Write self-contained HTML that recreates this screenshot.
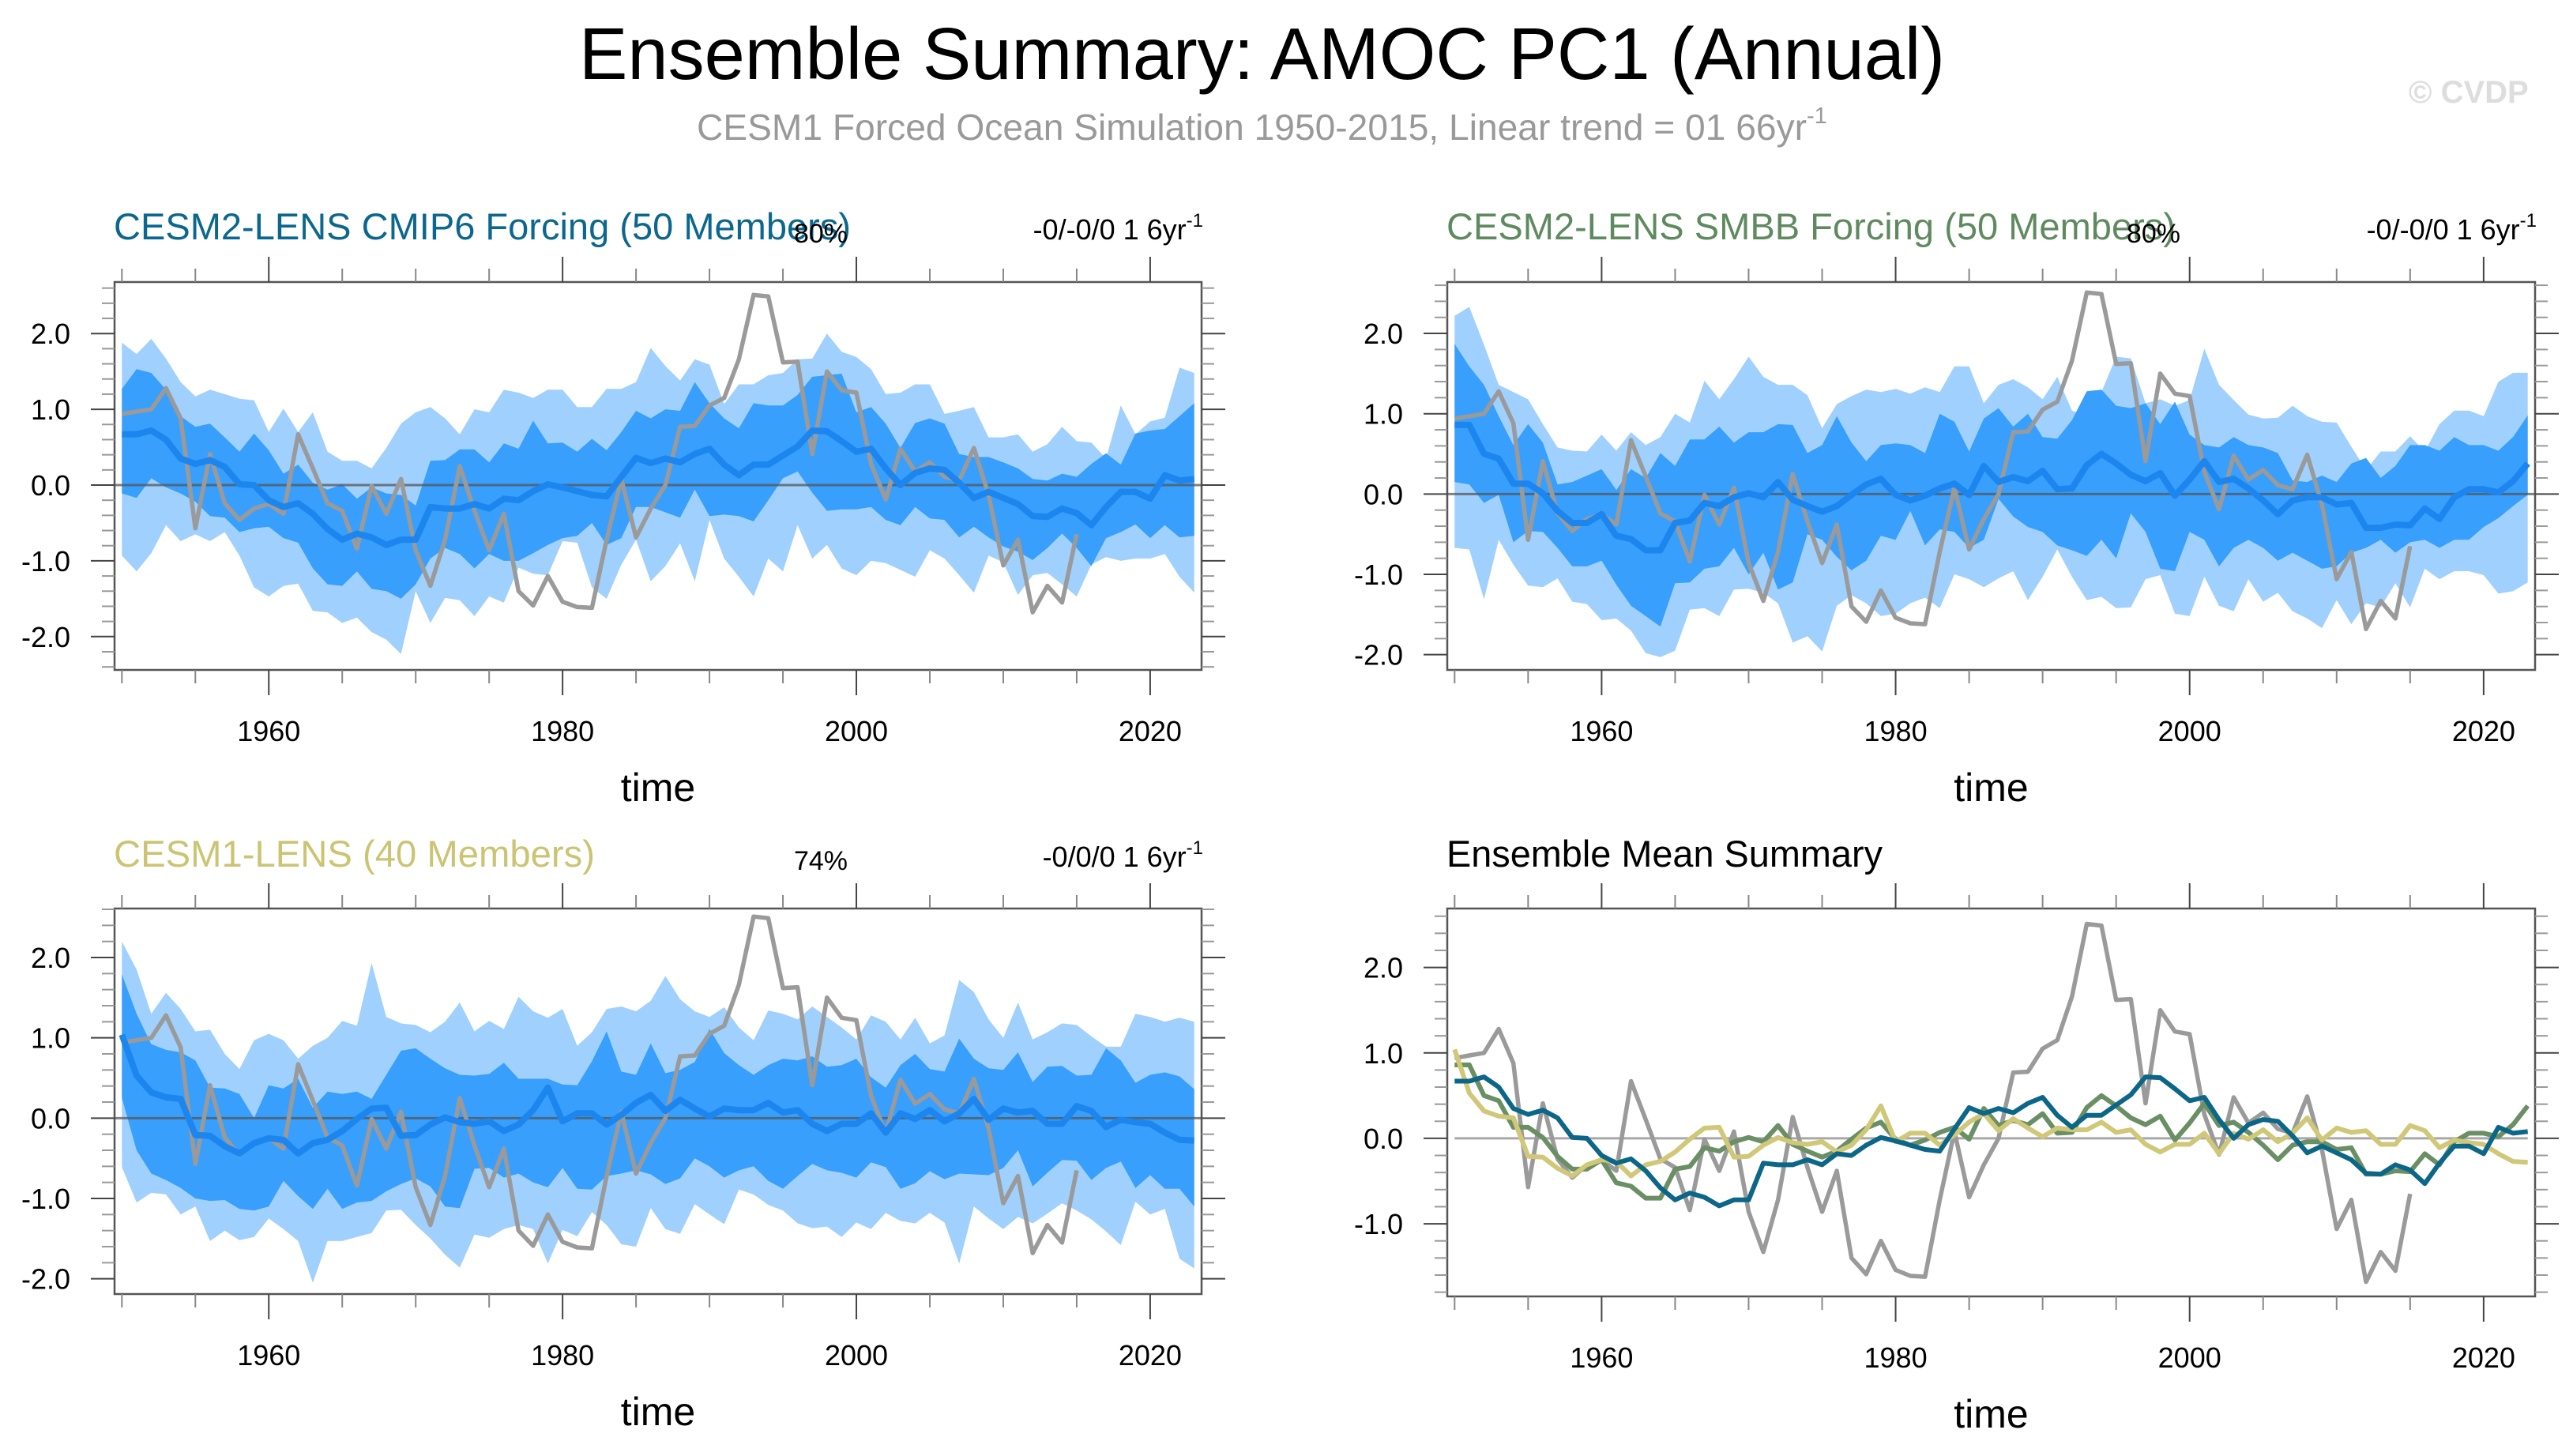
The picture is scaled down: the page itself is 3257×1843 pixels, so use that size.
<!DOCTYPE html>
<html><head><meta charset="utf-8"><style>
html,body{margin:0;padding:0;background:#fff;}
svg{display:block;font-family:"Liberation Sans",Arial,sans-serif;}
</style></head><body>
<svg id="fig" width="3257" height="1843" viewBox="0 0 3257 1843" xmlns="http://www.w3.org/2000/svg">
<rect width="3257" height="1843" fill="#fff"/>
<text x="733" y="100" font-size="93" textLength="1729" lengthAdjust="spacingAndGlyphs">Ensemble Summary: AMOC PC1 (Annual)</text>
<text x="882" y="177" font-size="46" fill="#999"><tspan textLength="1405" lengthAdjust="spacingAndGlyphs">CESM1 Forced Ocean Simulation 1950-2015, Linear trend = 01 66yr</tspan><tspan font-size="29" dy="-21">-1</tspan></text>
<text x="3049" y="130" font-size="40" font-weight="bold" fill="#dddddd">© CVDP</text>
<g id="panels"></g>
</svg>
<script>
const years = [];
for (let y = 1950; y <= 2023; y++) years.push(y);
const obsYears = [];
for (let y = 1950; y <= 2015; y++) obsYears.push(y);
const xTickYears = [1960, 1980, 2000, 2020];
const yTickLabelsTop = ["2.0", "1.0", "0.0", "-1.0", "-2.0"];
const yTickLabelsSummary = ["2.0", "1.0", "0.0", "-1.0"];

const obs = [0.94,0.97,1.0,1.28,0.88,-0.57,0.41,-0.24,-0.46,-0.31,
 -0.25,-0.38,0.67,0.22,-0.24,-0.34,-0.84,-0.01,-0.38,0.08,
 -0.86,-1.33,-0.72,0.25,-0.34,-0.86,-0.38,-1.40,-1.59,-1.20,
 -1.54,-1.61,-1.62,-0.72,0.08,-0.69,-0.31,0.0,0.77,0.78,
 1.05,1.15,1.66,2.51,2.49,1.62,1.63,0.41,1.5,1.25,
 1.22,0.28,-0.19,0.48,0.18,0.30,0.11,0.06,0.49,-0.13,
 -1.06,-0.72,-1.68,-1.33,-1.55,-0.65];

const mean1 = [0.67,0.67,0.72,0.60,0.35,0.28,0.33,0.24,0.01,0.0,
 -0.2,-0.29,-0.24,-0.38,-0.58,-0.72,-0.64,-0.69,-0.79,-0.72,
 -0.72,-0.29,-0.31,-0.31,-0.25,-0.31,-0.18,-0.2,-0.08,0.01,
 -0.03,-0.08,-0.13,-0.15,0.11,0.36,0.29,0.35,0.30,0.41,
 0.48,0.27,0.13,0.27,0.27,0.39,0.51,0.72,0.71,0.58,
 0.44,0.48,0.22,0.0,0.16,0.22,0.2,0.03,-0.17,-0.09,
 -0.17,-0.25,-0.41,-0.42,-0.31,-0.37,-0.53,-0.29,-0.09,-0.09,
 -0.18,0.13,0.06,0.08];
const innerHi1 = [1.27,1.53,1.48,1.26,0.91,0.77,0.81,0.63,0.44,0.68,
 0.46,0.15,0.27,0.03,-0.06,0.01,-0.18,-0.03,-0.11,-0.13,
 -0.27,0.32,0.33,0.47,0.47,0.30,0.55,0.48,0.85,0.55,
 0.56,0.44,0.61,0.46,0.70,0.98,0.88,1.0,0.98,1.36,
 1.08,0.88,0.75,1.08,1.05,1.05,1.19,1.43,1.45,1.47,
 0.96,1.03,0.81,0.49,0.82,0.88,0.81,0.41,0.37,0.37,
 0.30,0.22,0.08,0.06,0.15,0.11,0.28,0.42,0.27,0.68,
 0.72,0.74,0.91,1.08];
const innerLo1 = [-0.11,-0.17,0.09,-0.03,-0.11,-0.22,-0.41,-0.43,-0.62,-0.57,
 -0.55,-0.7,-0.76,-1.10,-1.31,-1.33,-1.14,-1.37,-1.4,-1.50,
 -1.31,-0.97,-0.83,-0.91,-1.10,-0.91,-1.0,-1.0,-0.9,-0.79,
 -0.70,-0.67,-0.50,-0.79,-0.70,-0.29,-0.29,-0.36,-0.43,-0.06,
 -0.41,-0.39,-0.41,-0.48,-0.2,0.09,0.18,-0.10,-0.34,-0.32,
 -0.32,-0.29,-0.46,-0.53,-0.29,-0.44,-0.46,-0.69,-0.55,-0.69,
 -0.81,-0.88,-0.99,-0.83,-0.64,-0.83,-1.07,-0.70,-0.62,-0.52,
 -0.70,-0.53,-0.69,-0.67];
const outerHi1 = [1.88,1.73,1.93,1.67,1.36,1.17,1.26,1.2,1.14,1.12,
 0.70,1.01,0.70,0.96,0.44,0.32,0.32,0.22,0.49,0.81,
 0.96,1.03,0.88,0.67,1.0,0.96,1.26,1.22,1.15,1.26,
 1.26,1.03,1.03,1.27,1.27,1.36,1.81,1.57,1.38,1.66,
 1.59,1.07,1.33,1.33,1.45,1.48,1.66,1.67,2.0,1.76,
 1.69,1.53,1.2,1.22,1.33,1.33,0.94,0.98,1.03,0.63,
 0.63,0.67,0.44,0.54,0.77,0.58,0.56,0.35,1.05,0.67,
 0.84,0.89,1.55,1.48];
const outerLo1 = [-0.93,-1.14,-0.9,-0.53,-0.74,-0.65,-0.74,-0.62,-0.93,-1.35,
 -1.47,-1.33,-1.30,-1.66,-1.68,-1.82,-1.75,-1.94,-2.04,-2.23,
 -1.40,-1.82,-1.49,-1.52,-1.73,-1.47,-1.55,-1.09,-1.17,-1.19,
 -0.74,-0.76,-1.35,-1.50,-1.05,-0.72,-1.27,-1.07,-0.77,-1.27,
 -0.46,-0.97,-1.21,-1.47,-0.97,-1.14,-0.53,-0.97,-0.79,-1.10,
 -1.19,-1.0,-1.03,-1.12,-1.21,-0.86,-0.97,-1.19,-1.42,-0.93,
 -1.02,-1.45,-1.19,-1.16,-1.31,-1.47,-1.05,-0.95,-1.0,-0.97,
 -0.97,-0.91,-1.21,-1.42];

const mean2 = [0.86,0.86,0.50,0.44,0.13,0.13,0.01,-0.21,-0.36,-0.36,
 -0.25,-0.52,-0.56,-0.70,-0.70,-0.36,-0.33,-0.11,-0.15,-0.04,
 0.01,-0.04,0.15,-0.07,-0.15,-0.22,-0.15,-0.01,0.12,0.19,
 -0.01,-0.08,-0.02,0.07,0.13,-0.01,0.35,0.15,0.21,0.16,
 0.29,0.06,0.07,0.36,0.50,0.38,0.24,0.16,0.26,-0.02,
 0.18,0.41,0.15,0.19,0.07,-0.08,-0.25,-0.08,-0.04,-0.04,
 -0.13,-0.11,-0.42,-0.42,-0.38,-0.39,-0.18,-0.31,-0.04,0.06,
 0.06,0.02,0.16,0.38];
const outerHi2 = [2.22,2.33,1.86,1.36,1.27,1.18,0.87,0.58,0.54,0.53,
 0.74,0.54,0.77,0.61,0.71,1.0,0.89,1.41,1.18,1.43,
 1.71,1.46,1.36,1.36,1.23,0.82,1.12,1.22,1.30,1.27,
 1.31,1.25,1.33,1.27,1.59,1.59,1.13,1.36,1.43,1.33,
 1.18,1.46,1.04,0.97,1.27,1.71,1.69,1.13,1.18,1.10,
 1.17,1.81,1.36,1.17,0.99,0.94,0.95,1.10,0.97,0.90,
 0.89,0.59,0.30,0.53,0.53,0.72,0.53,0.87,1.04,1.04,
 0.97,1.40,1.51,1.51];
const innerHi2 = [1.87,1.59,1.36,0.97,0.61,0.87,0.64,0.12,0.15,0.23,
 0.31,0.05,0.31,0.20,0.51,0.35,0.68,0.68,0.84,0.64,
 0.77,0.77,0.87,0.86,0.51,0.61,0.97,0.64,0.41,0.61,
 0.63,0.61,0.51,1.0,0.90,0.53,0.94,1.07,0.84,1.0,
 0.71,0.69,0.92,1.28,1.30,1.10,1.07,1.13,0.87,1.15,
 0.74,0.61,0.58,0.71,0.61,0.58,0.51,0.17,0.15,0.23,
 0.15,0.38,0.45,0.20,0.35,0.61,0.61,0.54,0.71,0.61,
 0.61,0.54,0.71,0.98];
const innerLo2 = [0.15,0.12,-0.11,-0.01,-0.60,-0.46,-0.47,-0.67,-0.90,-0.90,
 -0.83,-1.13,-1.39,-1.52,-1.65,-1.11,-1.10,-0.93,-0.90,-0.67,
 -1.0,-0.73,-1.19,-1.10,-0.50,-0.57,-0.78,-0.95,-0.83,-0.52,
 -0.57,-0.21,-0.64,-0.44,-0.47,-0.67,-0.57,-0.06,-0.28,-0.41,
 -0.47,-0.64,-0.70,-0.77,-0.57,-0.80,-0.24,-0.47,-0.93,-0.96,
 -0.47,-0.57,-0.90,-0.67,-0.57,-0.67,-0.83,-0.73,-0.83,-0.93,
 -0.90,-0.73,-0.67,-0.57,-0.73,-0.60,-0.57,-0.67,-0.57,-0.57,
 -0.41,-0.30,-0.15,-0.01];
const outerLo2 = [-0.67,-0.69,-1.31,-0.57,-0.88,-1.14,-1.16,-1.05,-1.34,-1.37,
 -1.57,-1.55,-1.70,-1.98,-2.03,-1.95,-1.44,-1.42,-1.52,-1.19,
 -1.18,-1.23,-1.36,-1.85,-1.77,-1.96,-1.39,-1.26,-1.36,-1.52,
 -1.49,-1.36,-1.29,-1.42,-1.0,-1.06,-1.16,-1.05,-0.96,-1.32,
 -1.03,-0.69,-1.03,-1.32,-1.28,-1.42,-1.41,-1.06,-1.01,-1.49,
 -1.52,-1.03,-1.39,-1.46,-1.06,-1.34,-1.23,-1.46,-1.55,-1.67,
 -1.32,-1.62,-1.36,-1.41,-1.11,-1.41,-0.93,-1.06,-0.96,-0.96,
 -1.01,-1.24,-1.21,-1.10];

const mean3 = [1.04,0.53,0.32,0.26,0.24,-0.21,-0.22,-0.35,-0.44,-0.31,
 -0.25,-0.27,-0.44,-0.31,-0.27,-0.16,-0.01,0.12,0.13,-0.22,
 -0.21,-0.08,0.01,-0.05,-0.07,-0.04,-0.16,-0.08,0.10,0.38,
 -0.04,0.06,0.06,-0.08,0.04,0.19,0.29,0.09,0.23,0.12,
 0.02,0.12,0.10,0.10,0.19,0.07,0.10,-0.07,-0.16,-0.07,
 -0.07,0.06,-0.18,0.06,-0.01,0.10,-0.04,0.06,0.24,-0.02,
 0.12,0.07,0.09,-0.07,-0.07,0.15,0.09,-0.11,-0.02,-0.05,
 -0.07,-0.18,-0.27,-0.28];
const outerHi3 = [2.20,1.85,1.30,1.56,1.36,1.08,1.10,0.80,0.61,0.97,
 1.05,0.97,0.74,0.90,1.0,1.21,1.15,1.93,1.26,1.18,
 1.16,1.07,1.20,1.44,1.08,1.21,1.11,1.51,1.33,1.25,
 1.36,0.90,1.07,1.36,1.39,1.33,1.46,1.77,1.48,1.33,
 1.26,1.38,1.13,0.97,1.34,1.30,1.23,1.39,1.26,1.13,
 0.98,1.28,1.20,0.98,1.25,0.93,1.03,1.72,1.57,1.23,
 1.0,1.44,0.98,1.07,1.18,1.16,1.02,0.89,0.89,1.30,
 1.26,1.20,1.25,1.20];
const innerHi3 = [1.79,1.30,0.92,0.85,0.82,0.72,0.38,0.37,0.30,0.0,
 0.41,0.37,0.49,0.13,0.33,0.30,0.33,0.24,0.54,0.84,
 0.87,0.74,0.62,0.54,0.53,0.55,0.69,0.49,0.49,0.49,
 0.42,0.41,0.71,1.08,0.58,0.54,0.93,0.56,0.60,0.70,
 1.11,0.81,0.66,0.54,0.66,0.74,0.72,0.77,0.64,0.66,
 0.74,0.51,0.38,0.66,0.80,0.61,0.58,0.99,0.74,0.62,
 0.60,0.82,0.45,0.64,0.65,0.53,0.54,0.87,0.72,0.44,
 0.54,0.57,0.52,0.36];
const innerLo3 = [0.25,-0.4,-0.69,-0.77,-0.87,-1.0,-1.03,-1.02,-1.13,-1.15,
 -1.1,-0.78,-0.97,-1.13,-0.88,-1.13,-1.05,-1.03,-0.91,-0.82,
 -0.75,-0.85,-1.1,-1.12,-0.63,-0.62,-0.74,-0.69,-0.80,-0.86,
 -0.62,-0.88,-0.89,-0.72,-0.69,-0.65,-0.70,-0.82,-0.75,-0.50,
 -0.60,-0.74,-0.65,-0.60,-0.78,-0.88,-0.72,-0.57,-0.65,-0.68,
 -0.74,-0.55,-0.61,-0.88,-0.81,-0.66,-0.76,-0.69,-0.70,-0.71,
 -0.62,-0.40,-0.85,-0.68,-0.52,-0.53,-0.77,-0.62,-0.54,-0.87,
 -0.71,-0.88,-0.88,-1.10];
const outerLo3 = [-0.61,-1.05,-0.93,-0.95,-1.2,-1.1,-1.53,-1.40,-1.52,-1.48,
 -1.25,-1.38,-1.53,-2.05,-1.53,-1.53,-1.48,-1.43,-1.15,-1.14,
 -1.33,-1.50,-1.70,-1.86,-1.45,-1.49,-1.38,-1.33,-1.38,-1.81,
 -1.39,-1.47,-1.17,-1.33,-1.57,-1.60,-1.12,-1.38,-1.44,-1.07,
 -1.20,-1.32,-0.89,-0.95,-1.08,-1.15,-1.31,-1.37,-1.35,-1.48,
 -1.30,-1.38,-1.18,-1.28,-1.31,-1.18,-1.30,-1.81,-1.10,-1.25,
 -1.38,-1.23,-1.31,-1.19,-1.06,-1.15,-1.26,-1.41,-1.58,-1.04,
 -1.20,-1.13,-1.75,-1.87];

const NS = "http://www.w3.org/2000/svg";
const root = document.getElementById("panels");
function mk(tag, attrs, parent) {
  const e = document.createElementNS(NS, tag);
  for (const k in attrs) e.setAttribute(k, attrs[k]);
  (parent || root).appendChild(e);
  return e;
}
function makeScales(p) {
  const sx = v => p.x0 + (v - 1949.5) / 74 * (p.x1 - p.x0);
  const sy = v => p.y0 + (p.ymax - v) / (p.ymax - p.ymin) * (p.y1 - p.y0);
  return {sx, sy};
}
function pathFrom(xs, vals, sx, sy) {
  return vals.map((v, i) => (i ? "L" : "M") + sx(xs[i]).toFixed(1) + "," + sy(v).toFixed(1)).join("");
}
function bandPath(hi, lo, sx, sy) {
  let d = hi.map((v, i) => (i ? "L" : "M") + sx(years[i]).toFixed(1) + "," + sy(v).toFixed(1)).join("");
  for (let i = lo.length - 1; i >= 0; i--) d += "L" + sx(years[i]).toFixed(1) + "," + sy(lo[i]).toFixed(1);
  return d + "Z";
}
function axes(p, g, sx, sy, labels) {
  const ax = mk("g", {}, g);
  
  
  for (let yr = 1950; yr <= 2020; yr += 5) {
    const major = yr % 20 === 0;
    const L = major ? 32 : 17;
    const x = sx(yr);
    const t1 = mk("line", {x1: x, x2: x, y1: p.y0, y2: p.y0 - L, stroke: major ? "#444" : "#888", "stroke-width": 2}, ax);
    
    
    const t2 = mk("line", {x1: x, x2: x, y1: p.y1, y2: p.y1 + L, stroke: major ? "#444" : "#888", "stroke-width": 2}, ax);
    
    
  }
  for (let k = Math.ceil(p.ymin * 5); k <= Math.floor(p.ymax * 5); k++) {
    const v = k / 5;
    const major = k % 5 === 0;
    const L = major ? 30 : 16;
    const y = sy(v);
    const a = mk("line", {x1: p.x0, x2: p.x0 - L, y1: y, y2: y, stroke: major ? "#444" : "#999", "stroke-width": 2}, ax);
    
    
    const b = mk("line", {x1: p.x1, x2: p.x1 + L, y1: y, y2: y, stroke: major ? "#444" : "#999", "stroke-width": 2}, ax);
    
    
  }
  labels.forEach(s => {
    const t = mk("text", {x: p.x0 - 56, y: sy(parseFloat(s)) + 13, "font-size": 36, "text-anchor": "end"}, ax);
    
    
    t.textContent = s;
  });
  xTickYears.forEach(yr => {
    const t = mk("text", {x: sx(yr), y: p.y1 + 90, "font-size": 36, "text-anchor": "middle"}, ax);
    
    
    t.textContent = yr;
  });
  const xt = mk("text", {x: (p.x0 + p.x1) / 2, y: p.y1 + 166, "font-size": 50, "text-anchor": "middle"}, ax);
  
  
  xt.textContent = "time";
}
function frame(p, g) {
  const r = mk("rect", {x: p.x0, y: p.y0, width: p.x1 - p.x0, height: p.y1 - p.y0, fill: "none", stroke: "#555", "stroke-width": 2.5}, g);
  
  
}
function headers(p, g, title, color, tw, pct, trend) {
  const t = mk("text", {x: p.x0 - 1, y: p.titleY, "font-size": 47, fill: color, textLength: tw, lengthAdjust: "spacingAndGlyphs"}, g);
  
  
  t.textContent = title;
  if (pct) {
    const c = mk("text", {x: p.x0 + 894, y: p.titleY + 4, "font-size": 34, "text-anchor": "middle"}, g);
    
    
    c.textContent = pct;
  }
  if (trend) {
    const tr = mk("text", {x: p.x1 + 2, y: p.titleY, "font-size": 36, "text-anchor": "end"}, g);
    
    
    tr.innerHTML = trend + '<tspan font-size="24" dy="-16">-1</tspan>';
  }
}
function bandPanel(p, name, title, color, tw, pct, trend, oHi, iHi, iLo, oLo, mean) {
  const g = mk("g", {});
  
  
  const {sx, sy} = makeScales(p);
  const ob = mk("path", {d: bandPath(oHi, oLo, sx, sy), fill: "#a0d0fd"}, g);
  
  
  const ib = mk("path", {d: bandPath(iHi, iLo, sx, sy), fill: "#389ffd"}, g);
  
  
  const z = mk("line", {x1: p.x0, x2: p.x1, y1: sy(0), y2: sy(0), stroke: "#555", "stroke-opacity": 0.75, "stroke-width": 3}, g);
  
  
  const o = mk("path", {d: pathFrom(obsYears, obs, sx, sy), fill: "none", stroke: "#9a9a9a", "stroke-width": 5.5, "stroke-linejoin": "round"}, g);
  
  
  const m = mk("path", {d: pathFrom(years, mean, sx, sy), fill: "none", stroke: "#1c86ee", "stroke-width": 8, "stroke-linejoin": "round"}, g);
  
  
  frame(p, g);
  axes(p, g, sx, sy, yTickLabelsTop);
  headers(p, g, title, color, tw, pct, trend);
}

const P1 = {x0: 145, x1: 1521, y0: 357, y1: 848, ymin: -2.44, ymax: 2.68, titleY: 303};
const P2 = {x0: 1832, x1: 3209, y0: 357, y1: 848, ymin: -2.19, ymax: 2.64, titleY: 303};
const P3 = {x0: 145, x1: 1521, y0: 1150, y1: 1638, ymin: -2.19, ymax: 2.61, titleY: 1097};
const P4 = {x0: 1832, x1: 3209, y0: 1150, y1: 1641, ymin: -1.85, ymax: 2.69, titleY: 1097};

bandPanel(P1, "panel-cesm2-cmip6", "CESM2-LENS CMIP6 Forcing (50 Members)", "#0b678e", 933, "80%", "-0/-0/0 1 6yr", outerHi1, innerHi1, innerLo1, outerLo1, mean1);
bandPanel(P2, "panel-cesm2-smbb", "CESM2-LENS SMBB Forcing (50 Members)", "#5f8a5f", 923, "80%", "-0/-0/0 1 6yr", outerHi2, innerHi2, innerLo2, outerLo2, mean2);
bandPanel(P3, "panel-cesm1-lens", "CESM1-LENS (40 Members)", "#cbc473", 609, "74%", "-0/0/0 1 6yr", outerHi3, innerHi3, innerLo3, outerLo3, mean3);

(function () {
  const p = P4;
  const g = mk("g", {});
  
  
  const {sx, sy} = makeScales(p);
  const z = mk("line", {x1: sx(1950), x2: sx(2023), y1: sy(0), y2: sy(0), stroke: "#a8a8a8", "stroke-width": 3}, g);
  
  
  const o = mk("path", {d: pathFrom(obsYears, obs, sx, sy), fill: "none", stroke: "#9a9a9a", "stroke-width": 5.5, "stroke-linejoin": "round"}, g);
  
  
  const l2 = mk("path", {d: pathFrom(years, mean2, sx, sy), fill: "none", stroke: "#6a8f64", "stroke-width": 6, "stroke-linejoin": "round"}, g);
  
  
  const l3 = mk("path", {d: pathFrom(years, mean3, sx, sy), fill: "none", stroke: "#d0c878", "stroke-width": 6, "stroke-linejoin": "round"}, g);
  
  
  const l1 = mk("path", {d: pathFrom(years, mean1, sx, sy), fill: "none", stroke: "#0b6688", "stroke-width": 6, "stroke-linejoin": "round"}, g);
  
  
  frame(p, g);
  axes(p, g, sx, sy, yTickLabelsSummary);
  headers(p, g, "Ensemble Mean Summary", "#000", 552, null, null);
})();
</script>
</body></html>
